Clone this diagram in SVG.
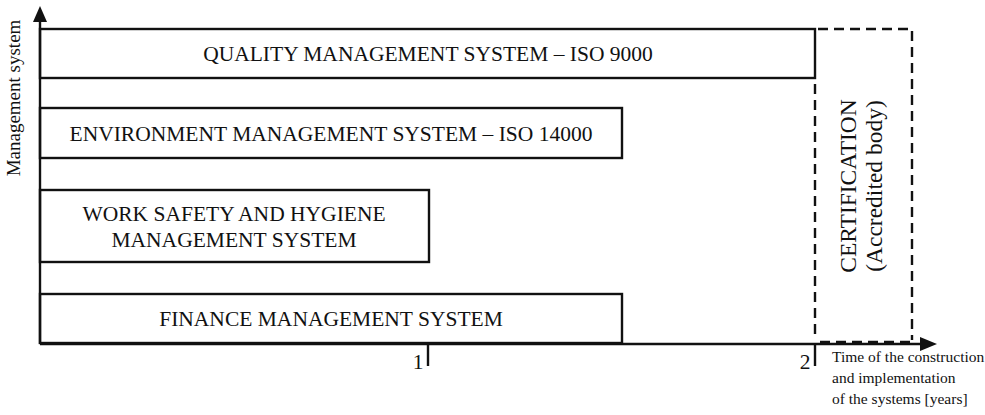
<svg xmlns="http://www.w3.org/2000/svg" width="985" height="415" viewBox="0 0 985 415">
<style>
.box{fill:none;stroke:#111;stroke-width:2.4}
.ax{stroke:#111;stroke-width:2.4;fill:none}
.dash{stroke:#111;stroke-width:2.4;fill:none;stroke-dasharray:10,6}
.t{font-family:"Liberation Serif",serif;font-size:21.5px;fill:#111;text-anchor:middle}
.s{font-family:"Liberation Serif",serif;font-size:15.5px;fill:#111}
.c{font-family:"Liberation Serif",serif;font-size:23.5px;fill:#111;text-anchor:middle}
</style>
<rect width="985" height="415" fill="#fff"/>
<g id="connectors">
<line class="ax" x1="40" y1="344" x2="40" y2="18"/>
<path d="M33,22 L40,6 L47,22 z" fill="#111"/>
<line class="ax" x1="40" y1="344" x2="922" y2="344"/>
<path d="M920,337 L937,344 L920,351 z" fill="#111"/>
<line class="ax" x1="428" y1="344" x2="428" y2="366"/>
<line class="ax" x1="815" y1="344" x2="815" y2="366"/>
</g>
<g id="quality">
<rect class="box" x="40" y="29" width="775" height="49"/>
<text class="t" x="428" y="61">QUALITY MANAGEMENT SYSTEM – ISO 9000</text>
</g>
<g id="environment">
<rect class="box" x="40" y="108" width="582" height="50"/>
<text class="t" x="331" y="141">ENVIRONMENT MANAGEMENT SYSTEM – ISO 14000</text>
</g>
<g id="worksafety">
<rect class="box" x="40" y="190" width="389" height="72"/>
<text class="t" x="234" y="221">WORK SAFETY AND HYGIENE</text>
<text class="t" x="234" y="247">MANAGEMENT SYSTEM</text>
</g>
<g id="finance">
<rect class="box" x="40" y="294" width="582" height="49"/>
<text class="t" x="331" y="326">FINANCE MANAGEMENT SYSTEM</text>
</g>
<g id="certification">
<path class="dash" d="M818,29 H912 V340"/>
<path class="dash" d="M815,84 V340"/>
<path class="dash" d="M820,342 H910"/>
<text class="c" transform="translate(856,186) rotate(-90)">CERTIFICATION</text>
<text class="c" transform="translate(882,186) rotate(-90)">(Accredited body)</text>
</g>
<g id="labels">
<text class="t" transform="translate(20,98) rotate(-90)" style="font-size:19px">Management system</text>
<text class="t" x="418" y="369">1</text>
<text class="t" x="805" y="369">2</text>
<text class="s" x="832" y="362">Time of the construction</text>
<text class="s" x="832" y="383">and implementation</text>
<text class="s" x="832" y="404">of the systems [years]</text>
</g>
</svg>
